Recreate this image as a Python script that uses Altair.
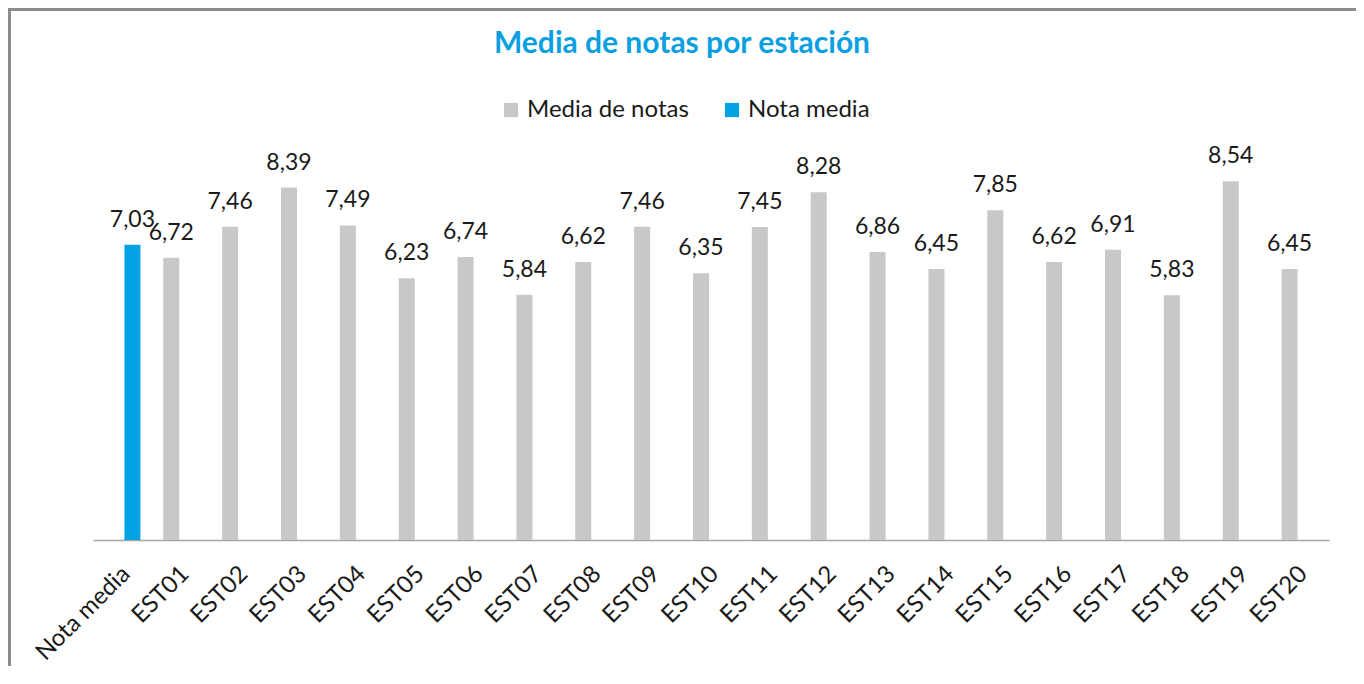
import altair as alt
import pandas as pd

categorias = ["Nota media"] + [f"EST{i:02d}" for i in range(1, 21)]
estaciones = [f"EST{i:02d}" for i in range(1, 21)]
media_notas = [6.72, 7.46, 8.39, 7.49, 6.23, 6.74, 5.84, 6.62, 7.46, 6.35,
               7.45, 8.28, 6.86, 6.45, 7.85, 6.62, 6.91, 5.83, 8.54, 6.45]
nota_media = 7.03
series = ["Media de notas", "Nota media"]
colores = ["#C8C8C8", "#00A2E3"]

rows = [{"cat": "Nota media", "serie": "Nota media", "valor": nota_media}]
rows += [{"cat": c, "serie": "Media de notas", "valor": v} for c, v in zip(estaciones, media_notas)]
df = pd.DataFrame(rows)

FONT = "Lato"

x_enc = alt.X("cat:N", sort=categorias,
              scale=alt.Scale(domain=categorias, paddingInner=0, paddingOuter=0),
              axis=alt.Axis(title=None, labelAngle=-45, labelAlign="right", labelBaseline="middle",
                            labelFontSize=24, labelFont=FONT, labelColor="#1a1a1a",
                            labelPadding=30, labelOffset=4, ticks=False,
                            domainColor="#A6A6A6", domainWidth=1.5, grid=False))
xo_enc = alt.XOffset("serie:N", scale=alt.Scale(domain=series, paddingInner=0.2, paddingOuter=0.571))
y_enc = alt.Y("valor:Q", scale=alt.Scale(domain=[0, 10], nice=False), axis=None)

base = alt.Chart(df)

bars = base.mark_bar().encode(
    x=x_enc, xOffset=xo_enc, y=y_enc,
    color=alt.Color("serie:N", scale=alt.Scale(domain=series, range=colores),
                    legend=alt.Legend(title=None, orient="none", direction="horizontal",
                                      legendX=406, legendY=-22, symbolType="square",
                                      symbolSize=200, symbolStrokeWidth=0,
                                      labelFontSize=24, labelFont=FONT, labelColor="#1a1a1a",
                                      labelLimit=400, columnPadding=31, symbolOffset=0)),
)

labels = base.transform_calculate(
    etiqueta="replace(format(datum.valor, '.2f'), '.', ',')"
).mark_text(fontSize=23, font=FONT, color="#1a1a1a", dy=-18, baseline="alphabetic").encode(
    x=x_enc, xOffset=xo_enc, y=y_enc, text="etiqueta:N"
)

frame = alt.Chart(pd.DataFrame({"a": [0]})).mark_rect(
    fill=None, stroke="#8C8C8C", strokeWidth=3
).encode(x=alt.value(-83.5), x2=alt.value(1265), y=alt.value(-110.5), y2=alt.value(600))

chart = alt.layer(frame, bars, labels).properties(
    width=1236, height=420,
    title=alt.TitleParams("Media de notas por estación", fontSize=30, font=FONT, fontWeight="bold",
                          color="#0AA0DF", anchor="middle", dx=-29, offset=0, dy=75,
                          baseline="alphabetic"),
    autosize=alt.AutoSizeParams(type="none"),
    padding={"left": 85, "top": 112, "right": 27, "bottom": 126},
).configure_view(stroke=None)

chart.save("out.html", embed_options={"renderer": "svg", "actions": False})
